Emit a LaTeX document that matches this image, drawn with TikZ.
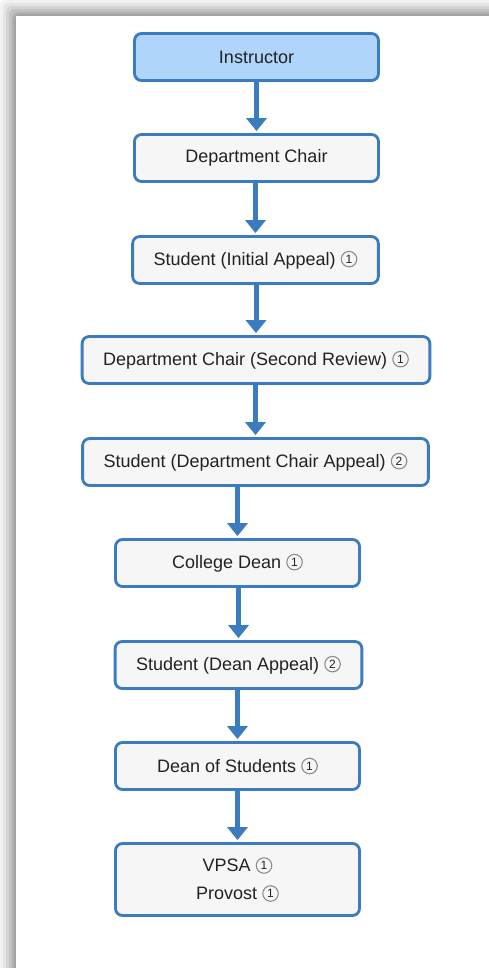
\documentclass[tikz,border=0pt]{standalone}
\usepackage{fontspec}
\setmainfont{Liberation Sans}
\usetikzlibrary{arrows.meta}
\definecolor{boxline}{HTML}{3A7CBF}
\definecolor{boxfill}{HTML}{F6F6F6}
\definecolor{startfill}{HTML}{AFD5FA}
\definecolor{textdark}{HTML}{222222}
\definecolor{numgray}{HTML}{8C8C8C}

% small circled step number
\newcommand{\stepnum}[1]{\tikz[baseline={([yshift=-6.3pt]n.center)}]\node[circle, draw=numgray, line width=1.1pt, inner sep=0pt, minimum size=15.5pt, text=textdark, font=\fontsize{12}{12}\selectfont] (n) {#1};}

\tikzset{
  stepbox/.style={draw=boxline, fill=boxfill, line width=2.8pt, rounded corners=7pt,
    minimum width=244pt, minimum height=47pt, inner xsep=21pt, align=center,
    text=textdark, font=\fontsize{18}{28}\selectfont},
  flow/.style={draw=boxline, line width=5pt, -{Triangle[width=20pt,length=13pt]}, shorten >=2pt}
}

\begin{document}
\begin{tikzpicture}[x=1pt, y=-1pt]
  \useasboundingbox (0,0) rectangle (489,968);
  \clip (0,0) rectangle (489,968);

  % Frame with soft shadow
  \fill[white] (0,0) rectangle (489,968);
  \foreach \d/\g in {0/5, 3/10, 6/17, 9/24, 12/31, 14/36}
    \fill[black!\g, rounded corners=6pt] (\d,\d) rectangle (520,1000);
  \fill[white] (16,16) rectangle (520,1000);

  % Steps
  \node[stepbox, fill=startfill] (instructor) at (256.5,57) {Instructor};
  \node[stepbox] (chair) at (256.5,158) {Department Chair};
  \node[stepbox] (appeal) at (255.5,260) {Student (Initial Appeal) \stepnum{1}};
  \node[stepbox] (review) at (256,360) {Department Chair (Second Review) \stepnum{1}};
  \node[stepbox] (chairappeal) at (255.5,462) {Student (Department Chair Appeal) \stepnum{2}};
  \node[stepbox] (dean) at (237.5,563) {College Dean \stepnum{1}};
  \node[stepbox] (deanappeal) at (238.5,665) {Student (Dean Appeal) \stepnum{2}};
  \node[stepbox] (students) at (237.5,766) {Dean of Students \stepnum{1}};
  \node[stepbox, minimum height=72pt] (vpsa) at (237.5,879.5) {VPSA \stepnum{1}\\Provost \stepnum{1}};

  % Arrows
  \draw[flow] (chair.north |- instructor.south) -- (chair.north);
  \draw[flow] (appeal.north |- chair.south) -- (appeal.north);
  \draw[flow] (review.north |- appeal.south) -- (review.north);
  \draw[flow] (chairappeal.north |- review.south) -- (chairappeal.north);
  \draw[flow] (dean.north |- chairappeal.south) -- (dean.north);
  \draw[flow] (deanappeal.north |- dean.south) -- (deanappeal.north);
  \draw[flow] (students.north |- deanappeal.south) -- (students.north);
  \draw[flow] (vpsa.north |- students.south) -- (vpsa.north);
\end{tikzpicture}
\end{document}
